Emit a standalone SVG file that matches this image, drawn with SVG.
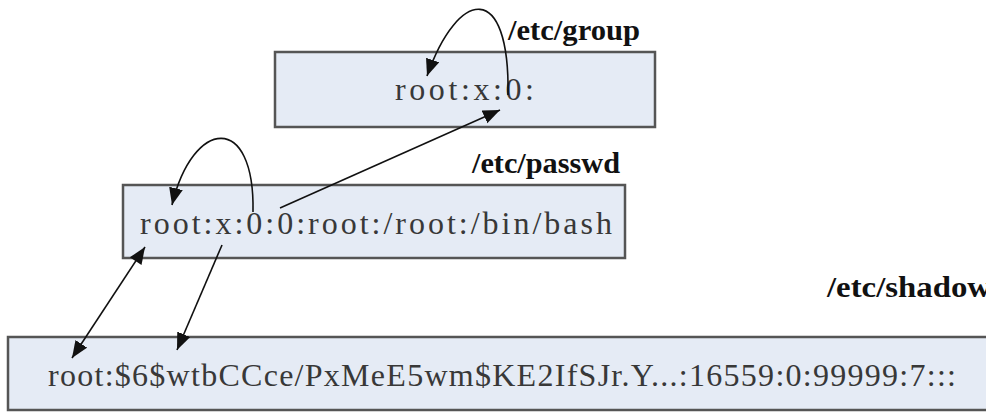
<svg xmlns="http://www.w3.org/2000/svg" width="986" height="412" viewBox="0 0 986 412">
<style>
.box{fill:#e5ebf5;stroke:#555;stroke-width:2.5}
.rec{font-family:"Liberation Serif","Times New Roman",serif;font-size:32px;fill:#383838}
.lbl{font-family:"Liberation Serif","Times New Roman",serif;font-size:29px;font-weight:bold;fill:#111}
.con{fill:none;stroke:#111;stroke-width:1.6}
</style>
<defs>
<marker id="ah" markerUnits="userSpaceOnUse" markerWidth="20" markerHeight="16" refX="17" refY="7" orient="auto">
<path d="M0,0 L17,7 L0,14 Z" fill="#111"/>
</marker>
<marker id="as" markerUnits="userSpaceOnUse" markerWidth="20" markerHeight="16" refX="0" refY="7" orient="auto">
<path d="M17,0 L0,7 L17,14 Z" fill="#111"/>
</marker>
</defs>
<rect width="986" height="412" fill="#fff"/>
<g id="group">
<rect class="box" x="275" y="52" width="380" height="75"/>
<text class="lbl" x="508" y="40" textLength="132" lengthAdjust="spacingAndGlyphs">/etc/group</text>
<text class="rec" x="395" y="100" textLength="139">root:x:0:</text>
</g>
<g id="passwd">
<rect class="box" x="123" y="185" width="502" height="73"/>
<text class="lbl" x="472" y="173" textLength="148" lengthAdjust="spacingAndGlyphs">/etc/passwd</text>
<text class="rec" x="140" y="234" textLength="472">root:x:0:0:root:/root:/bin/bash</text>
</g>
<g id="shadow">
<rect class="box" x="8" y="337" width="990" height="73"/>
<text class="lbl" x="827" y="297" textLength="164" lengthAdjust="spacingAndGlyphs">/etc/shadow</text>
<text class="rec" x="48" y="386" textLength="908">root:$6$wtbCCce/PxMeE5wm$KE2IfSJr.Y...:16559:0:99999:7:::</text>
</g>
<g id="connectors">
<path class="con" d="M508,95 C510,-20 458,-12 427,76" marker-end="url(#ah)"/>
<path class="con" d="M253,212 C255,112 193,118 172,205" marker-end="url(#ah)"/>
<path class="con" d="M280,208 L500,110" marker-end="url(#ah)"/>
<path class="con" d="M145,247 L72,358" marker-start="url(#as)" marker-end="url(#ah)"/>
<path class="con" d="M222,245 L177,350" marker-end="url(#ah)"/>
</g>
</svg>
